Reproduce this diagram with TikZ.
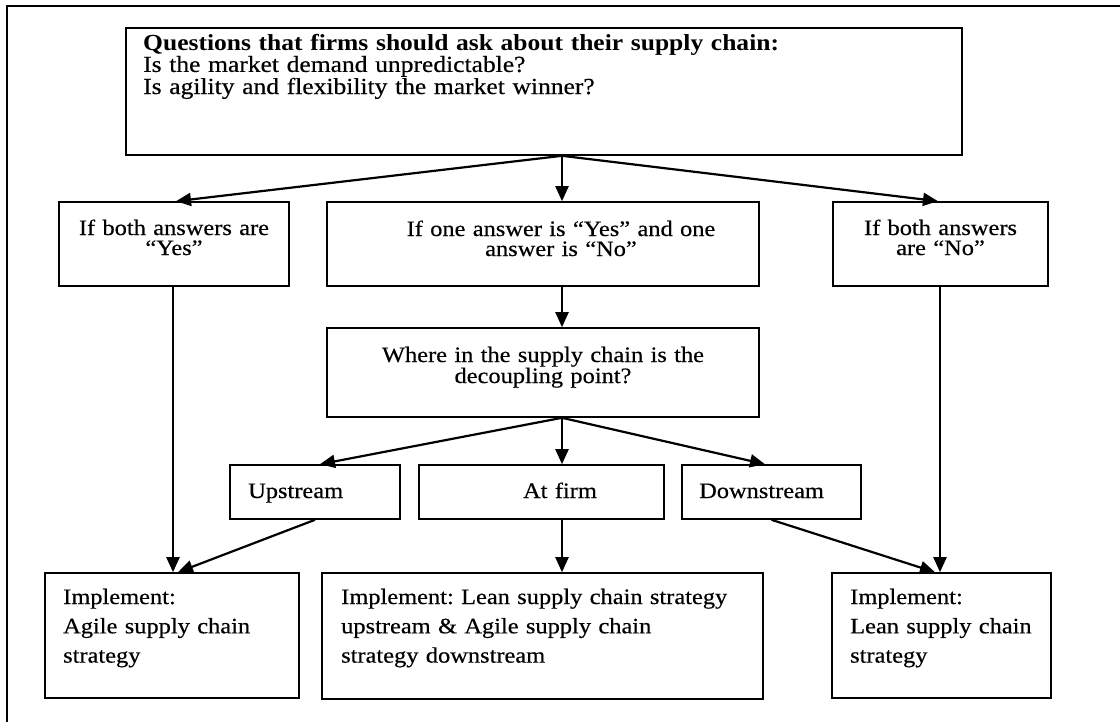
\documentclass[tikz,border=0pt]{standalone}
\usepackage{fontspec}
\setmainfont{Liberation Serif}[FakeStretch=1.11, UprightFeatures={FakeBold=0.4}]
\usetikzlibrary{arrows.meta}
\frenchspacing
\begin{document}
\begin{tikzpicture}[x=1pt,y=-1pt,
  box/.style 2 args={draw, line width=1.6pt, inner sep=0pt, minimum width=#1, minimum height=#2},
  txt/.style={inner sep=0pt, font=\frenchspacing\fontsize{22}{20}\selectfont},
  tl/.style={txt, text width=800pt, align=left},
  tc/.style={txt, text width=#1, align=center},
  tb/.style={inner sep=0pt, text width=800pt, align=left, font=\frenchspacing\fontsize{22}{29.3}\selectfont},
  arr/.style={line width=2.2pt, -{Triangle[length=15pt,width=13pt]}},
  frame/.style={line width=2.2pt}]
\useasboundingbox (0,0) rectangle (1120,721);
\fill[white] (0,0) rectangle (1120,721);
\draw[frame] (1121,6) -- (7,6) -- (7,722);

% boxes
\node[box={836pt}{127pt}] (top) at (544,91.5) {};
\node[box={230pt}{84pt}] (yes) at (174,244) {};
\node[box={432pt}{84pt}] (mixed) at (543,244) {};
\node[box={215pt}{84pt}] (no) at (940.5,244) {};
\node[box={432pt}{89pt}] (where) at (543,372.5) {};
\node[box={170pt}{54pt}] (up) at (315,492) {};
\node[box={245pt}{54pt}] (firm) at (541.5,492) {};
\node[box={179pt}{54pt}] (down) at (771.5,492) {};
\node[box={254pt}{125pt}] (agile) at (172,635.5) {};
\node[box={441pt}{126pt}] (both) at (542.5,636) {};
\node[box={219pt}{125pt}] (lean) at (941.5,635.5) {};

% texts
\node[tl, anchor=base west, font=\frenchspacing\fontsize{23}{20.3}\selectfont] (ttop) at (143,50) {\textbf{Questions that firms should ask about their supply chain:}\\Is the market demand unpredictable?\\Is agility and flexibility the market winner?};
\node[tc=230pt, anchor=base] (tyes) at (174,235) {If both answers are\\“Yes”};
\node[tc=432pt, anchor=base] (tmixed) at (561,236) {If one answer is “Yes” and one\\answer is “No”};
\node[tc=215pt, anchor=base] (tno) at (940.5,235) {If both answers\\are “No”};
\node[tc=432pt, anchor=base] (twhere) at (543,362) {Where in the supply chain is the\\decoupling point?};
\node[tl, anchor=base west] (tup) at (248,498) {Upstream};
\node[tc=245pt, anchor=base] (tfirm) at (560,498) {At firm};
\node[tl, anchor=base west] (tdown) at (699,498) {Downstream};
\node[tb, anchor=base west] (tagile) at (63,604) {Implement:\\Agile supply chain\\strategy};
\node[tb, anchor=base west] (tboth) at (341,604) {Implement: Lean supply chain strategy\\upstream \& Agile supply chain\\strategy downstream};
\node[tb, anchor=base west] (tlean) at (850,604) {Implement:\\Lean supply chain\\strategy};

% connectors
\draw[arr] ([xshift=18pt]top.south) -- ([xshift=2pt]yes.north);
\draw[arr] ([xshift=18pt]top.south) -- ([xshift=19pt]mixed.north);
\draw[arr] ([xshift=18pt]top.south) -- ([xshift=-2.5pt]no.north);
\draw[arr] ([xshift=19pt]mixed.south) -- ([xshift=19pt]where.north);
\draw[arr] ([xshift=-1pt]yes.south) -- ([xshift=1pt]agile.north);
\draw[arr] ([xshift=-0.5pt]no.south) -- ([xshift=-1.5pt]lean.north);
\draw[arr] ([xshift=19pt]where.south) -- ([xshift=5pt]up.north);
\draw[arr] ([xshift=19pt]where.south) -- ([xshift=20.5pt]firm.north);
\draw[arr] ([xshift=19pt]where.south) -- ([xshift=-6.5pt]down.north);
\draw[arr] ([xshift=20.5pt]firm.south) -- ([xshift=19.5pt]both.north);
\draw[arr] (up.south) -- ([xshift=6pt]agile.north);
\draw[arr] (down.south) -- ([xshift=-6.5pt]lean.north);
\end{tikzpicture}
\end{document}
